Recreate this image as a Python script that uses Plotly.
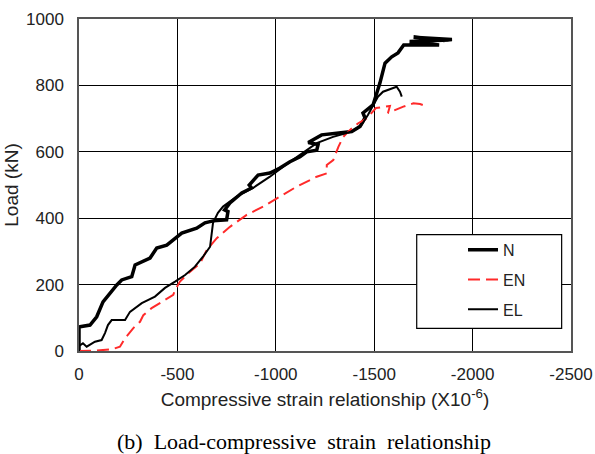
import plotly.graph_objects as go

# ---- data ----
N_strain = [0, 0, -5, -56, -90, -122, -192, -217, -268, -285, -361, -395, -446, -522, -598, -640,
            -681, -750, -757, -740, -767, -827, -877, -865, -910, -970, -1021, -1072, -1123, -1157,
            -1208, -1215, -1165, -1233, -1309, -1386, -1428, -1453, -1443, -1494, -1529, -1555, -1589,
            -1621, -1650, -1830, -1680, -1880, -1700, -1895, -1850]
N_load = [0, 72, 73, 78, 103, 148, 199, 214, 224, 259, 280, 310, 319, 355, 370, 386,
          392, 395, 420, 425, 446, 476, 491, 500, 530, 536, 551, 570, 585, 600,
          605, 622, 628, 651, 656, 661, 676, 702, 717, 741, 807, 867, 886,
          898, 922, 922, 932, 937, 945, 938, 935]

EN_strain = [0, -81, -166, -208, -234, -276, -310, -327, -369, -420, -479, -488, -513, -555, -615,
             -649, -700, -767, -852, -936, -1021, -1106, -1208, -1259, -1259, -1292, -1318, -1343,
             -1377, -1419, -1462, -1509, -1580, -1570, -1648, -1699, -1733, -1768]
EN_load = [0, 1, 5, 13, 38, 69, 88, 108, 129, 148, 169, 184, 209, 234, 264,
           304, 340, 374, 410, 435, 465, 495, 525, 535, 560, 575, 615, 645,
           666, 686, 701, 732, 738, 717, 736, 746, 744, 736]

EL_strain = [0, 0, -20, -39, -81, -115, -132, -147, -166, -234, -259, -285, -319, -386, -437, -488,
             -539, -589, -630, -666, -674, -681, -706, -732, -801, -884, -970, -1072, -1208, -1291,
             -1386, -1436, -1468, -1494, -1519, -1545, -1614, -1631, -1640]
EL_load = [0, 15, 23, 13, 28, 33, 54, 78, 93, 93, 118, 129, 144, 164, 190, 209,
           229, 254, 284, 314, 355, 386, 416, 435, 465, 491, 525, 570, 626, 645,
           661, 681, 711, 741, 766, 781, 796, 781, 766]

x_ticks = [0, -500, -1000, -1500, -2000, -2500]
x_tick_text = ["0", "-500", "-1000", "-1500", "-2000", "-2500"]
y_ticks = [0, 200, 400, 600, 800, 1000]

font_family = "Liberation Sans, Arial, sans-serif"
txt = "#222222"

fig = go.Figure()
fig.add_trace(go.Scatter(x=N_strain, y=N_load, mode="lines", name="N", legendgroup="a",
                         line=dict(color="black", width=3.5)))
fig.add_trace(go.Scatter(x=EN_strain, y=EN_load, mode="lines", name="EN", legendgroup="b",
                         line=dict(color="#ff2a2a", width=2, dash="12px,6px")))
fig.add_trace(go.Scatter(x=EL_strain, y=EL_load, mode="lines", name="EL", legendgroup="c",
                         line=dict(color="black", width=2)))

fig.update_layout(
    template="none",
    width=595, height=454,
    margin=dict(l=79, r=24, t=19, b=103),
    paper_bgcolor="white", plot_bgcolor="white",
    font=dict(family=font_family, size=17, color=txt),
    showlegend=True,
    legend=dict(x=0.7805, y=0.356, xanchor="left", yanchor="top",
                bgcolor="rgba(0,0,0,0)", borderwidth=0,
                font=dict(size=16, color=txt), tracegroupgap=6,
                traceorder="grouped", itemwidth=30),
    xaxis=dict(range=[0, -2500], tickvals=x_ticks, ticktext=x_tick_text,
               showgrid=True, gridcolor="black", gridwidth=1,
               zeroline=False, showline=True, linecolor="#555555", linewidth=1.5, mirror=True,
               ticks="", ticklabelstandoff=7, automargin=False, tickfont=dict(size=17),
               ticklabeloverflow="allow",
               title=dict(text="Compressive strain relationship (X10<sup>-6</sup>)", standoff=10,
                          font=dict(size=19))),
    yaxis=dict(range=[0, 1000], tickvals=y_ticks, showgrid=True, gridcolor="black", gridwidth=1,
               zeroline=False, showline=True, linecolor="#555555", linewidth=1.5, mirror=True,
               ticks="", ticklabelstandoff=10, automargin=False,
               title=dict(text="Load (kN)", standoff=2, font=dict(size=19))),
    shapes=[dict(type="rect", xref="paper", yref="paper", x0=0.6864, x1=0.981, y0=0.0684, y1=0.3503,
                 fillcolor="white", line=dict(color="black", width=1.2), layer="above")],
)

fig.add_annotation(text="(b)  Load-compressive  strain  relationship", xref="paper", yref="paper",
                   x=0.458, y=-0.273, xanchor="center", yanchor="middle", showarrow=False,
                   font=dict(family="Liberation Serif, Times New Roman, serif", size=22, color="black"))

# remove the default 8px page margin so the figure fills the 595x454 window exactly
fig.write_html("out.html", config={"displayModeBar": False},
               post_script="document.body.style.margin='0px'; document.body.style.overflow='hidden';")
